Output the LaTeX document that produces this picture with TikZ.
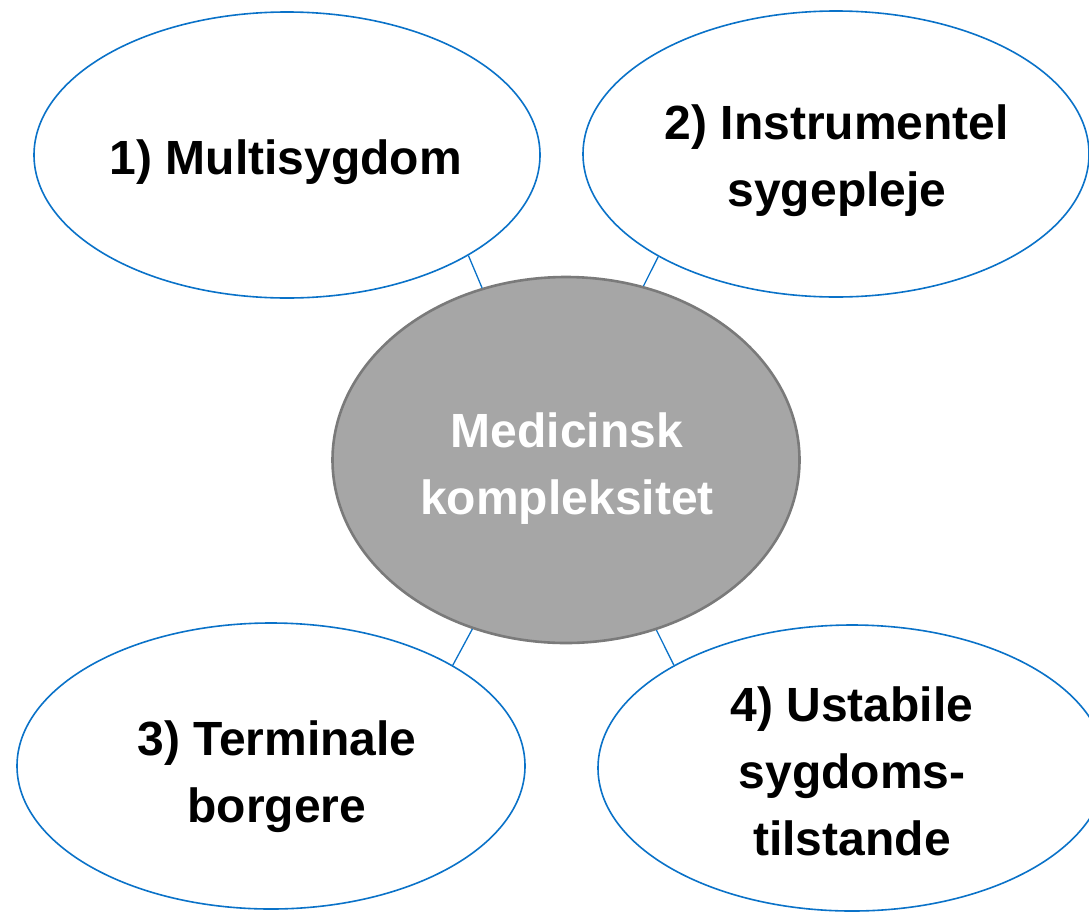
\documentclass[tikz,border=0pt]{standalone}
\usepackage{fontspec}
\setmainfont{Liberation Sans}
\usepackage{tikz}
\usetikzlibrary{shapes.geometric}
\definecolor{bblue}{HTML}{0A72C8}
\definecolor{cgray}{HTML}{7A7A7A}
\definecolor{cfill}{HTML}{A6A6A6}

\begin{document}
\begin{tikzpicture}[x=1pt,y=-1pt,
  bubble/.style={ellipse, draw=bblue, line width=1.6pt, fill=white,
    minimum width=506pt, minimum height=286pt, inner sep=0pt},
  core/.style={ellipse, draw=cgray, line width=2.6pt, fill=cfill,
    minimum width=467pt, minimum height=366pt, inner sep=0pt},
  lbl/.style={align=center, inner sep=0pt, font=\bfseries\fontsize{48}{67}\selectfont},
  link/.style={bblue, line width=1.3pt}]
\clip (0,0) rectangle (1089,911);
%
\node[bubble] (e1) at (287,155) {};
\node[bubble] (e2) at (836,154) {};
\node[bubble, minimum width=508pt] (e3) at (271,766) {};
\node[bubble, minimum width=508pt] (e4) at (852,768) {};
\node[core] (mk) at (566,460) {};
%
\node[lbl] (t1) at (286,162) {1) Multisygdom};
\node[lbl] (t2) at (837,161) {2) Instrumentel\\sygepleje};
\node[lbl] (t3) at (277,777) {3) Terminale\\borgere};
\node[lbl] (t4) at (852,771) {4) Ustabile\\sygdoms-\\tilstande};
\node[lbl, text=white] (tm) at (567,469) {Medicinsk\\kompleksitet};
%
\draw[link] (e1.-29.5) -- (mk.116);
\draw[link] (e2.-150.3) -- (mk.66.3);
\draw[link] (e3.29.3) -- (mk.-119.5);
\draw[link] (e4.150) -- (mk.-62.1);
\end{tikzpicture}
\end{document}
